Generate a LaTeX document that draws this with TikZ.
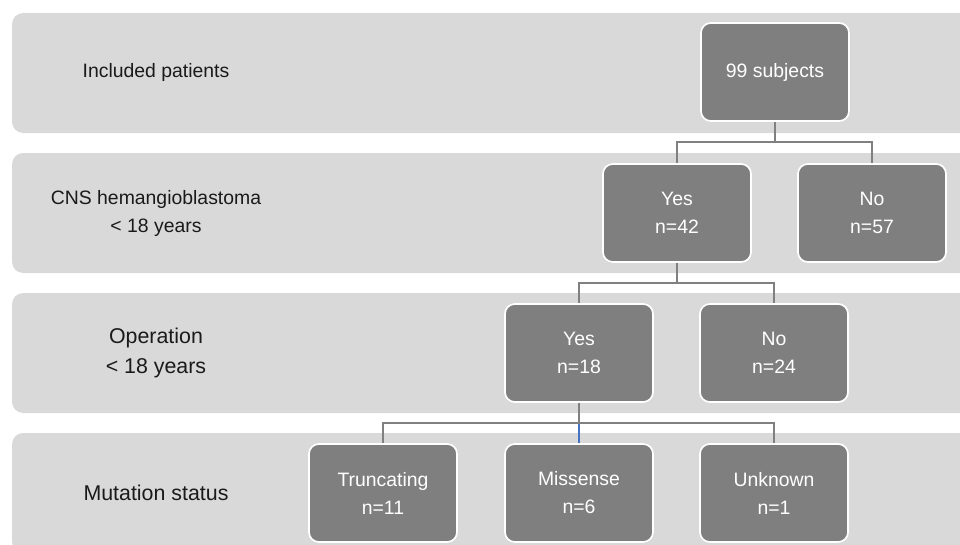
\documentclass[tikz,border=0pt]{standalone}
\usepackage{fontspec}
\setmainfont{Liberation Sans}
\definecolor{bandgrey}{HTML}{D9D9D9}
\definecolor{boxgrey}{HTML}{7F7F7F}
\definecolor{linegrey}{HTML}{808080}
\definecolor{linkblue}{HTML}{4472C4}
\definecolor{labeltext}{HTML}{1A1A1A}

\begin{document}
\begin{tikzpicture}[x=0.025cm, y=-0.025cm,
    band/.style={fill=bandgrey, rounded corners=8pt},
    stage/.style={text=labeltext, align=center, font=\fontsize{13.8}{19.9}\selectfont},
    bigstage/.style={stage, font=\fontsize{15.2}{21.3}\selectfont},
    count/.style={draw=white, line width=1.2pt, fill=boxgrey, rounded corners=7pt,
      minimum width=3.7cm, minimum height=2.45cm, inner sep=0pt, text=white,
      align=center, font=\fontsize{13.8}{19.9}\selectfont},
    link/.style={draw=linegrey, line width=1.4pt}]
  \useasboundingbox (0,0) rectangle (960,545);
  \clip (0,0) rectangle (960,545);
  % background bands
  \foreach \y in {13,153,293,433}
    \fill[band] (12,\y) rectangle (990,\y+120);
  % stage labels
  \node[stage] (incl) at (156,72) {Included patients};
  \node[stage] (cns) at (156,213) {CNS hemangioblastoma\\< 18 years};
  \node[bigstage] (oper) at (156,353) {Operation\\< 18 years};
  \node[bigstage] (mut) at (156,493) {Mutation status};
  % counts
  \node[count] (subj) at (775,72) {99 subjects};
  \node[count] (cnsyes) at (677,213) {Yes\\n=42};
  \node[count] (cnsno) at (872,213) {No\\n=57};
  \node[count] (opyes) at (579,353) {Yes\\n=18};
  \node[count] (opno) at (774,353) {No\\n=24};
  \node[count] (trunc) at (383,493) {Truncating\\n=11};
  \node[count] (miss) at (579,493) {Missense\\n=6};
  \node[count] (unkn) at (774,493) {Unknown\\n=1};
  % connectors
  \draw[link] (subj.south) -- ++(0,20.5) -| (cnsyes.north);
  \draw[link] (subj.south) -- ++(0,20.5) -| (cnsno.north);
  \draw[link] (cnsyes.south) -- ++(0,20.5) -| (opyes.north);
  \draw[link] (cnsyes.south) -- ++(0,20.5) -| (opno.north);
  \draw[link] (opyes.south) -- ++(0,20.5) -| (trunc.north);
  \draw[link] (opyes.south) -- ++(0,20.5) -| (unkn.north);
  \draw[link, draw=linkblue] (miss.north) -- ++(0,-19.5);
\end{tikzpicture}
\end{document}
